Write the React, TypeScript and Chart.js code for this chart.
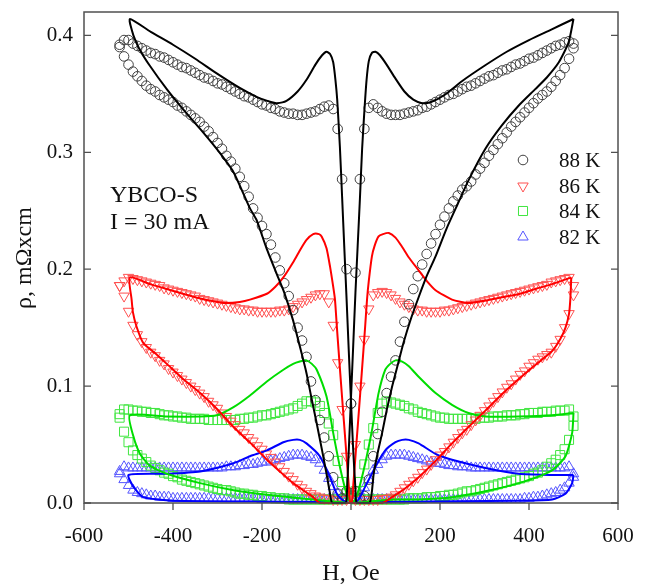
import React, { useEffect, useRef } from "react";
import { Chart, registerables } from "chart.js";

Chart.register(...registerables);

// ---------- tick labels & texts ----------
const X_TICKS = [-600, -400, -200, 0, 200, 400, 600];
const Y_TICKS = [0, 0.1, 0.2, 0.3, 0.4];
const SERIES_LABELS = ["88 K", "86 K", "84 K", "82 K"];
const SAMPLE_LABEL = "YBCO-S";
const CURRENT_LABEL = "I = 30 mA";
const X_TITLE = "H, Oe";
const Y_TITLE = "ρ, mΩxcm";

// ---------- measured points (field grid, Oe) ----------
const H_GRID = [
  -520, -510, -500, -490, -480, -470, -460, -450, -440, -430,
  -420, -410, -400, -390, -380, -370, -360, -350, -340, -330,
  -320, -310, -300, -290, -280, -270, -260, -250, -240, -230,
  -220, -210, -200, -190, -180, -170, -160, -150, -140, -130,
  -120, -110, -100, -90, -80, -70, -60, -50, -40, -30,
  -20, -10, 0, 10, 20, 30, 40, 50, 60, 70,
  80, 90, 100, 110, 120, 130, 140, 150, 160, 170,
  180, 190, 200, 210, 220, 230, 240, 250, 260, 270,
  280, 290, 300, 310, 320, 330, 340, 350, 360, 370,
  380, 390, 400, 410, 420, 430, 440, 450, 460, 470,
  480, 490, 500,
];

// 88 K
const RHO88_DOWN = [
  0.390, 0.382, 0.375, 0.369, 0.365, 0.361, 0.357, 0.354, 0.352, 0.349,
  0.347, 0.345, 0.343, 0.340, 0.338, 0.335, 0.332, 0.329, 0.326, 0.322,
  0.318, 0.313, 0.308, 0.303, 0.297, 0.292, 0.286, 0.279, 0.271, 0.262,
  0.252, 0.244, 0.237, 0.230, 0.221, 0.210, 0.199, 0.188, 0.177, 0.165,
  0.150, 0.139, 0.125, 0.104, 0.088, 0.071, 0.056, 0.040, 0.022, 0.008,
  0.004, 0.010, 0.085, 0.197, 0.277, 0.320, 0.338, 0.341, 0.338, 0.335,
  0.333, 0.332, 0.332, 0.332, 0.333, 0.334, 0.335, 0.336, 0.338, 0.339,
  0.341, 0.343, 0.345, 0.347, 0.349, 0.350, 0.352, 0.354, 0.356, 0.357,
  0.359, 0.361, 0.363, 0.365, 0.366, 0.368, 0.370, 0.371, 0.373, 0.375,
  0.376, 0.378, 0.380, 0.381, 0.383, 0.385, 0.387, 0.389, 0.391, 0.392,
  0.394, 0.395, 0.393,
];
const RHO88_UP = [
  0.392, 0.396, 0.396, 0.393, 0.391, 0.389, 0.387, 0.385, 0.384, 0.382,
  0.381, 0.379, 0.377, 0.375, 0.373, 0.372, 0.370, 0.368, 0.366, 0.364,
  0.363, 0.361, 0.359, 0.358, 0.356, 0.354, 0.352, 0.350, 0.348, 0.347,
  0.345, 0.343, 0.341, 0.340, 0.338, 0.337, 0.335, 0.334, 0.333, 0.333,
  0.332, 0.332, 0.333, 0.334, 0.335, 0.337, 0.339, 0.340, 0.337, 0.320,
  0.277, 0.200, 0.085, 0.010, 0.004, 0.006, 0.020, 0.040, 0.059, 0.078,
  0.094, 0.108, 0.122, 0.138, 0.155, 0.170, 0.183, 0.194, 0.204, 0.213,
  0.222, 0.230, 0.238, 0.245, 0.252, 0.258, 0.263, 0.268, 0.271, 0.275,
  0.281, 0.286, 0.291, 0.297, 0.302, 0.307, 0.312, 0.317, 0.322, 0.326,
  0.330, 0.334, 0.338, 0.342, 0.346, 0.349, 0.352, 0.356, 0.361, 0.366,
  0.372, 0.380, 0.389,
];

// 86 K
const RHO86_DOWN = [
  0.186, 0.177, 0.164, 0.152, 0.144, 0.138, 0.133, 0.129, 0.126, 0.122,
  0.119, 0.115, 0.112, 0.109, 0.106, 0.103, 0.100, 0.097, 0.094, 0.091,
  0.087, 0.084, 0.081, 0.077, 0.074, 0.070, 0.067, 0.063, 0.060, 0.056,
  0.053, 0.049, 0.046, 0.042, 0.039, 0.035, 0.031, 0.027, 0.023, 0.020,
  0.016, 0.013, 0.010, 0.008, 0.006, 0.005, 0.004, 0.004, 0.003, 0.003,
  0.003, 0.003, 0.010, 0.050, 0.100, 0.140, 0.166, 0.178, 0.180, 0.181,
  0.180, 0.178, 0.175, 0.172, 0.170, 0.168, 0.166, 0.165, 0.165, 0.164,
  0.164, 0.164, 0.164, 0.165, 0.165, 0.166, 0.167, 0.168, 0.169, 0.170,
  0.171, 0.172, 0.173, 0.174, 0.175, 0.176, 0.177, 0.178, 0.179, 0.180,
  0.181, 0.182, 0.183, 0.184, 0.185, 0.186, 0.187, 0.189, 0.190, 0.191,
  0.192, 0.193, 0.186,
];
const RHO86_UP = [
  0.186, 0.190, 0.193, 0.192, 0.191, 0.190, 0.189, 0.188, 0.187, 0.186,
  0.184, 0.183, 0.182, 0.181, 0.180, 0.179, 0.178, 0.177, 0.175, 0.174,
  0.173, 0.172, 0.171, 0.170, 0.169, 0.168, 0.167, 0.166, 0.166, 0.165,
  0.165, 0.164, 0.164, 0.164, 0.164, 0.164, 0.165, 0.165, 0.166, 0.168,
  0.170, 0.172, 0.174, 0.176, 0.178, 0.179, 0.179, 0.172, 0.152, 0.120,
  0.080, 0.040, 0.010, 0.003, 0.003, 0.003, 0.003, 0.003, 0.003, 0.004,
  0.004, 0.005, 0.007, 0.010, 0.013, 0.016, 0.019, 0.022, 0.026, 0.029,
  0.033, 0.037, 0.041, 0.044, 0.048, 0.052, 0.056, 0.060, 0.063, 0.067,
  0.071, 0.075, 0.079, 0.083, 0.087, 0.091, 0.095, 0.099, 0.102, 0.106,
  0.110, 0.113, 0.117, 0.120, 0.123, 0.125, 0.127, 0.129, 0.134, 0.140,
  0.150, 0.162, 0.178,
];

// 84 K
const RHO84_DOWN = [
  0.073, 0.061, 0.052, 0.045, 0.041, 0.038, 0.035, 0.032, 0.030, 0.028,
  0.026, 0.025, 0.023, 0.022, 0.020, 0.019, 0.018, 0.017, 0.016, 0.015,
  0.014, 0.013, 0.012, 0.011, 0.011, 0.010, 0.009, 0.008, 0.008, 0.007,
  0.007, 0.006, 0.006, 0.005, 0.005, 0.004, 0.004, 0.004, 0.003, 0.003,
  0.003, 0.003, 0.003, 0.003, 0.003, 0.003, 0.003, 0.003, 0.003, 0.003,
  0.003, 0.004, 0.006, 0.010, 0.018, 0.033, 0.050, 0.064, 0.077, 0.085,
  0.087, 0.086, 0.085, 0.084, 0.083, 0.081, 0.080, 0.078, 0.077, 0.076,
  0.075, 0.074, 0.073, 0.073, 0.072, 0.072, 0.072, 0.072, 0.072, 0.072,
  0.072, 0.073, 0.073, 0.073, 0.074, 0.074, 0.074, 0.075, 0.075, 0.075,
  0.076, 0.076, 0.077, 0.077, 0.077, 0.078, 0.078, 0.078, 0.079, 0.079,
  0.079, 0.080, 0.074,
];
const RHO84_UP = [
  0.076, 0.080, 0.080, 0.079, 0.079, 0.078, 0.078, 0.077, 0.077, 0.076,
  0.075, 0.075, 0.074, 0.074, 0.073, 0.073, 0.072, 0.072, 0.072, 0.072,
  0.071, 0.071, 0.071, 0.071, 0.071, 0.071, 0.071, 0.072, 0.072, 0.073,
  0.073, 0.074, 0.075, 0.075, 0.076, 0.077, 0.078, 0.079, 0.080, 0.081,
  0.083, 0.085, 0.087, 0.087, 0.086, 0.083, 0.077, 0.068, 0.058, 0.036,
  0.018, 0.008, 0.004, 0.003, 0.003, 0.003, 0.003, 0.003, 0.003, 0.003,
  0.003, 0.003, 0.003, 0.003, 0.003, 0.004, 0.004, 0.004, 0.004, 0.005,
  0.005, 0.005, 0.006, 0.006, 0.007, 0.007, 0.008, 0.009, 0.010, 0.010,
  0.011, 0.012, 0.013, 0.014, 0.015, 0.016, 0.017, 0.018, 0.019, 0.020,
  0.021, 0.022, 0.023, 0.025, 0.026, 0.028, 0.031, 0.034, 0.037, 0.041,
  0.046, 0.054, 0.066,
];

// 82 K
const RHO82_DOWN = [
  0.025, 0.020, 0.015, 0.011, 0.009, 0.008, 0.007, 0.006, 0.006, 0.005,
  0.005, 0.005, 0.004, 0.004, 0.004, 0.004, 0.004, 0.004, 0.004, 0.004,
  0.004, 0.004, 0.004, 0.004, 0.004, 0.004, 0.004, 0.004, 0.004, 0.004,
  0.004, 0.004, 0.003, 0.003, 0.003, 0.003, 0.003, 0.003, 0.003, 0.003,
  0.003, 0.003, 0.003, 0.003, 0.003, 0.003, 0.003, 0.003, 0.003, 0.003,
  0.003, 0.003, 0.003, 0.004, 0.008, 0.013, 0.020, 0.028, 0.033, 0.037,
  0.040, 0.041, 0.041, 0.041, 0.041, 0.040, 0.039, 0.038, 0.037, 0.036,
  0.035, 0.034, 0.034, 0.033, 0.032, 0.032, 0.031, 0.031, 0.031, 0.030,
  0.030, 0.030, 0.030, 0.030, 0.030, 0.030, 0.030, 0.030, 0.030, 0.030,
  0.030, 0.030, 0.030, 0.030, 0.030, 0.030, 0.030, 0.030, 0.030, 0.030,
  0.030, 0.031, 0.025,
];
const RHO82_UP = [
  0.027, 0.031, 0.030, 0.030, 0.030, 0.030, 0.030, 0.030, 0.030, 0.030,
  0.030, 0.030, 0.030, 0.030, 0.030, 0.030, 0.030, 0.030, 0.030, 0.030,
  0.030, 0.030, 0.030, 0.030, 0.031, 0.031, 0.031, 0.032, 0.032, 0.033,
  0.033, 0.034, 0.035, 0.035, 0.036, 0.037, 0.038, 0.039, 0.040, 0.041,
  0.041, 0.041, 0.040, 0.039, 0.037, 0.034, 0.028, 0.021, 0.014, 0.008,
  0.004, 0.003, 0.003, 0.003, 0.003, 0.003, 0.003, 0.003, 0.003, 0.003,
  0.003, 0.003, 0.003, 0.003, 0.003, 0.003, 0.003, 0.003, 0.003, 0.003,
  0.003, 0.003, 0.003, 0.003, 0.003, 0.003, 0.003, 0.003, 0.003, 0.003,
  0.003, 0.003, 0.003, 0.003, 0.003, 0.003, 0.003, 0.003, 0.003, 0.003,
  0.003, 0.004, 0.004, 0.005, 0.005, 0.006, 0.007, 0.008, 0.009, 0.011,
  0.013, 0.017, 0.022,
];

// ---------- model curves (closed loops, in sweep order) ----------
const LINE88_H = [
  500, 450, 400, 350, 300, 250, 210, 180, 160, 140, 120, 100, 80, 65, 55, 47, 40, 35, 30, 25,
  20, 15, 10, 5, 0, -5, -10, -13,
  -42, -48, -55, -65, -77, -90, -100, -111, -130, -150, -167, -190, -212, -227, -264, -300, -339, -380, -414, -452,
  -475, -489, -497,
  -450, -400, -350, -300, -250, -210, -180, -167, -145, -120, -100, -80, -65, -55, -47, -40, -35, -31, -25, -20,
  -15, -10, -5, 0, 5, 10, 13,
  42, 51, 60, 70, 80, 92, 105, 118, 135, 152, 170, 190, 215, 240, 264, 302, 339, 377, 414, 440,
  467, 489, 500,
];
const LINE88_R = [
  0.414, 0.405, 0.396, 0.386, 0.374, 0.361, 0.349, 0.343, 0.342, 0.345, 0.352, 0.363, 0.375, 0.383, 0.386, 0.385, 0.378, 0.362, 0.335, 0.303,
  0.260, 0.220, 0.180, 0.135, 0.090, 0.045, 0.003, 0,
  0, 0.010, 0.025, 0.045, 0.068, 0.092, 0.111, 0.128, 0.156, 0.180, 0.196, 0.218, 0.242, 0.252, 0.283, 0.302, 0.320, 0.338, 0.354, 0.374,
  0.388, 0.400, 0.414,
  0.403, 0.392, 0.380, 0.367, 0.355, 0.347, 0.343, 0.342, 0.344, 0.352, 0.362, 0.375, 0.383, 0.386, 0.384, 0.377, 0.362, 0.345, 0.305, 0.262,
  0.218, 0.175, 0.130, 0.087, 0.045, 0.012, 0,
  0, 0.025, 0.043, 0.060, 0.079, 0.099, 0.118, 0.137, 0.158, 0.176, 0.194, 0.211, 0.235, 0.256, 0.276, 0.303, 0.323, 0.340, 0.354, 0.364,
  0.377, 0.394, 0.414,
];

const LINE86_H = [
  495, 450, 414, 380, 339, 300, 264, 227, 190, 170, 152, 130, 115, 100, 85, 72, 62, 53, 47, 40,
  36, 32, 28, 20, 12, 5, 0,
  -70, -85, -100, -130, -160, -189, -225, -264, -300, -339, -380, -414, -440, -467, -482, -490, -493, -497,
  -450, -414, -339, -300, -279, -250, -227, -189, -170, -152, -130, -115, -100, -85, -72, -66, -55, -47, -40, -36,
  -32, -28, -20, -12, -5, 0,
  70, 92, 120, 152, 190, 227, 264, 302, 339, 377, 414, 452, 470, 482, 490, 493, 495,
];
const LINE86_R = [
  0.193, 0.187, 0.183, 0.179, 0.176, 0.173, 0.171, 0.174, 0.182, 0.190, 0.199, 0.210, 0.219, 0.227, 0.231, 0.230, 0.228, 0.220, 0.211, 0.190,
  0.174, 0.152, 0.131, 0.090, 0.050, 0.015, 0,
  0, 0.005, 0.009, 0.017, 0.027, 0.037, 0.051, 0.065, 0.080, 0.094, 0.107, 0.119, 0.128, 0.137, 0.151, 0.163, 0.174, 0.193,
  0.187, 0.183, 0.175, 0.172, 0.171, 0.172, 0.174, 0.179, 0.185, 0.193, 0.206, 0.216, 0.225, 0.230, 0.230, 0.228, 0.218, 0.202, 0.185, 0.174,
  0.152, 0.131, 0.090, 0.050, 0.015, 0,
  0, 0.005, 0.012, 0.022, 0.036, 0.051, 0.065, 0.079, 0.093, 0.106, 0.118, 0.130, 0.140, 0.150, 0.162, 0.175, 0.193,
];

const LINE84_H = [
  500, 452, 377, 302, 264, 227, 190, 152, 130, 115, 100, 88, 77, 62, 47, 32, 17, 8, 0,
  -60, -115, -189, -264, -339, -414, -452, -474, -489, -497,
  -414, -339, -302, -264, -227, -189, -152, -130, -115, -100, -88, -77, -55, -40, -25, -10, 0,
  60, 100, 152, 227, 302, 377, 452, 482, 497, 500,
];
const LINE84_R = [
  0.077, 0.075, 0.074, 0.074, 0.077, 0.084, 0.094, 0.108, 0.117, 0.121, 0.122, 0.119, 0.114, 0.094, 0.062, 0.034, 0.011, 0.002, 0,
  0.002, 0.004, 0.007, 0.011, 0.017, 0.025, 0.032, 0.042, 0.057, 0.075,
  0.074, 0.074, 0.075, 0.082, 0.092, 0.104, 0.114, 0.119, 0.121, 0.122, 0.119, 0.114, 0.091, 0.060, 0.031, 0.008, 0,
  0.002, 0.003, 0.003, 0.005, 0.010, 0.017, 0.028, 0.040, 0.060, 0.077,
];

const LINE82_H = [
  500, 452, 377, 302, 227, 190, 152, 130, 115, 100, 77, 55, 32, 17, 5,
  -100, -400, -467, -489, -500,
  -414, -339, -264, -227, -189, -152, -130, -115, -100, -70, -47, -32, -17, -5,
  100, 377, 452, 482, 497, 500,
];
const LINE82_R = [
  0.024, 0.024, 0.025, 0.030, 0.037, 0.042, 0.051, 0.054, 0.054, 0.052, 0.045, 0.031, 0.014, 0.003, 0,
  0.001, 0.002, 0.005, 0.014, 0.024,
  0.025, 0.027, 0.034, 0.040, 0.045, 0.052, 0.054, 0.054, 0.051, 0.040, 0.022, 0.008, 0.002, 0,
  0.001, 0.002, 0.003, 0.008, 0.017, 0.024,
];

// ---------- styles ----------
const FONT = "'Liberation Serif', 'Times New Roman', serif";
const MARKER_COLORS = ["#404040", "#ff5050", "#40e640", "#5555ff"];
const LINE_COLORS = ["#000000", "#ff0000", "#00dd00", "#0000ff"];
const MARKER_STYLES = [
  { style: "circle", radius: 4.8, rotation: 0 },
  { style: "triangle", radius: 6, rotation: 180 },
  { style: "rect", radius: 6.4, rotation: 0 },
  { style: "triangle", radius: 6, rotation: 0 },
];

function pts(hs: number[], rs: number[]) {
  return hs.map((h, i) => ({ x: h, y: rs[i] }));
}

function drawMarker(ctx: CanvasRenderingContext2D, idx: number, x: number, y: number) {
  const m = MARKER_STYLES[idx];
  ctx.save();
  ctx.strokeStyle = MARKER_COLORS[idx];
  ctx.lineWidth = 1;
  ctx.beginPath();
  if (m.style === "circle") {
    ctx.arc(x, y, m.radius, 0, Math.PI * 2);
  } else if (m.style === "rect") {
    const s = m.radius * Math.SQRT1_2;
    ctx.rect(x - s, y - s, 2 * s, 2 * s);
  } else {
    const r = m.radius;
    const dir = m.rotation === 180 ? -1 : 1;
    const a = Math.PI / 6;
    ctx.moveTo(x, y - dir * r);
    ctx.lineTo(x - r * Math.cos(a), y + dir * r * Math.sin(a));
    ctx.lineTo(x + r * Math.cos(a), y + dir * r * Math.sin(a));
    ctx.closePath();
  }
  ctx.stroke();
  ctx.restore();
}

const overlayPlugin = {
  id: "overlay",
  afterDraw(chart: any) {
    const { ctx, chartArea: a, scales } = chart;
    const xs = scales.x;
    const ys = scales.y;
    ctx.save();
    // frame
    ctx.strokeStyle = "#505050";
    ctx.lineWidth = 1.5;
    ctx.strokeRect(a.left, a.top, a.right - a.left, a.bottom - a.top);
    // ticks
    ctx.lineWidth = 1.3;
    ctx.beginPath();
    for (const v of Y_TICKS) {
      const y = ys.getPixelForValue(v);
      ctx.moveTo(a.left, y);
      ctx.lineTo(a.left + 7, y);
      ctx.moveTo(a.right, y);
      ctx.lineTo(a.right - 7, y);
    }
    for (const v of X_TICKS) {
      const x = xs.getPixelForValue(v);
      ctx.moveTo(x, a.bottom);
      ctx.lineTo(x, a.bottom + 7);
    }
    ctx.stroke();

    ctx.fillStyle = "#111";
    // axis titles
    ctx.font = `24px ${FONT}`;
    ctx.textAlign = "center";
    ctx.textBaseline = "alphabetic";
    ctx.fillText(X_TITLE, (a.left + a.right) / 2, 580);
    ctx.save();
    ctx.translate(31, 258);
    ctx.rotate(-Math.PI / 2);
    ctx.fillText(Y_TITLE, 0, 0);
    ctx.restore();

    // annotation
    ctx.textAlign = "left";
    ctx.font = `24px ${FONT}`;
    ctx.fillText(SAMPLE_LABEL, 110, 202);
    ctx.fillText(CURRENT_LABEL, 110, 229);

    // legend
    ctx.font = `21px ${FONT}`;
    const ly = [160, 186, 211, 237];
    SERIES_LABELS.forEach((lab, i) => {
      drawMarker(ctx, i, 523, ly[i]);
      ctx.fillStyle = "#111";
      ctx.textBaseline = "middle";
      ctx.fillText(lab, 559, ly[i] + 1);
    });
    ctx.restore();
  },
};

function zeroPad(s: any) {
  s.paddingTop = 0;
  s.paddingBottom = 0;
  s.paddingLeft = 0;
  s.paddingRight = 0;
}

export default function App() {
  const ref = useRef<HTMLCanvasElement | null>(null);
  useEffect(() => {
    if (!ref.current) return;
    const lineSets = [
      [LINE88_H, LINE88_R],
      [LINE86_H, LINE86_R],
      [LINE84_H, LINE84_R],
      [LINE82_H, LINE82_R],
    ].map(([h, r], i) => ({
      label: SERIES_LABELS[i] + " fit",
      data: pts(h as number[], r as number[]),
      showLine: true,
      borderColor: LINE_COLORS[i],
      backgroundColor: LINE_COLORS[i],
      borderWidth: 2,
      pointRadius: 0,
      tension: 0.2,
      borderJoinStyle: "round" as const,
      clip: false as any,
    }));
    const markerSets = [
      [RHO88_DOWN, RHO88_UP],
      [RHO86_DOWN, RHO86_UP],
      [RHO84_DOWN, RHO84_UP],
      [RHO82_DOWN, RHO82_UP],
    ].map(([d, u], i) => ({
      label: SERIES_LABELS[i],
      data: pts(H_GRID, d).concat(pts(H_GRID, u)),
      showLine: false,
      borderColor: MARKER_COLORS[i],
      backgroundColor: "rgba(0,0,0,0)",
      pointStyle: MARKER_STYLES[i].style as any,
      pointRadius: MARKER_STYLES[i].radius,
      pointRotation: MARKER_STYLES[i].rotation,
      pointBorderWidth: 1,
      clip: false as any,
    }));

    const chart = new Chart(ref.current, {
      type: "scatter",
      data: { datasets: [...lineSets, ...markerSets] as any },
      options: {
        animation: false,
        responsive: false,
        devicePixelRatio: 1,
        events: [],
        layout: { padding: { left: 0, right: 30, top: 12, bottom: 0 } },
        plugins: { legend: { display: false }, tooltip: { enabled: false } },
        scales: {
          x: {
            type: "linear",
            min: -600,
            max: 600,
            afterBuildTicks: (s: any) => {
              s.ticks = X_TICKS.map((v) => ({ value: v }));
            },
            afterFit: (s: any) => {
              s.height = 83;
              zeroPad(s);
            },
            grid: { display: false, drawTicks: false },
            border: { display: false },
            ticks: {
              padding: 21,
              color: "#111",
              font: { family: FONT, size: 21 },
              callback: (v: any) => String(v),
              maxRotation: 0,
            },
          },
          y: {
            type: "linear",
            min: 0,
            max: 0.42,
            afterBuildTicks: (s: any) => {
              s.ticks = Y_TICKS.map((v) => ({ value: v }));
            },
            afterFit: (s: any) => {
              s.width = 84;
              zeroPad(s);
            },
            grid: { display: false, drawTicks: false },
            border: { display: false },
            ticks: {
              padding: 11,
              color: "#111",
              font: { family: FONT, size: 21 },
              callback: (v: any) => Number(v).toFixed(1),
            },
          },
        },
      },
      plugins: [overlayPlugin],
    });
    return () => chart.destroy();
  }, []);

  return (
    <div style={{ position: "absolute", left: 0, top: 0, width: 648, height: 586, background: "#fff" }}>
      <canvas ref={ref} width={648} height={586} style={{ width: 648, height: 586 }} />
    </div>
  );
}
